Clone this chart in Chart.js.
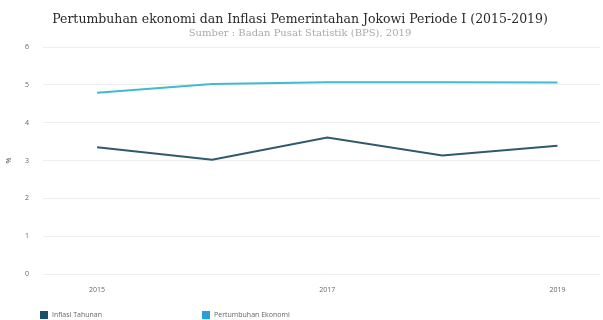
<!DOCTYPE html>
<html>
<head>
<meta charset="utf-8">
<script src="https://cdn.jsdelivr.net/npm/chart.js@4/dist/chart.umd.min.js"></script>
<style>
  html, body { margin: 0; padding: 0; background: #fff; }
  #wrap { position: relative; width: 603px; height: 320px; }
  #legend { position: absolute; left: 40px; top: 310px; font: 7px "Open Sans", sans-serif; color: #666; }
  #legend span.item { position: absolute; white-space: nowrap; }
  #legend i { display: inline-block; width: 8px; height: 8px; vertical-align: middle; margin-right: 4px; }
</style>
</head>
<body>
<div id="wrap">
  <canvas id="chart" width="603" height="320"></canvas>
  <div id="legend"></div>
</div>
<script>
// Indonesia's yearly figures, in percent
const years = [2015, 2016, 2017, 2018, 2019];
const inflasi = [3.35, 3.02, 3.61, 3.13, 3.39];
const pertumbuhan = [4.79, 5.02, 5.07, 5.07, 5.06];
const yearTicks = [2015, 2017, 2019];

const SERIES = [
  { label: 'Inflasi Tahunan', data: inflasi, line: '#2f5a6c', box: '#1d4e6b' },
  { label: 'Pertumbuhan Ekonomi', data: pertumbuhan, line: '#3fbccb', box: '#2a9fd8' },
];

const toPoints = vals => vals.map((v, i) => ({ x: years[i], y: v }));

// legend sits under the axis, left aligned with wide gaps
const legendEl = document.getElementById('legend');
SERIES.forEach((s, i) => {
  const el = document.createElement('span');
  el.className = 'item';
  el.style.left = (i * 162) + 'px';
  el.innerHTML = '<i style="background:' + s.box + '"></i>' + s.label;
  legendEl.appendChild(el);
});

new Chart(document.getElementById('chart'), {
  type: 'line',
  data: {
    datasets: SERIES.map(s => ({
      label: s.label,
      data: toPoints(s.data),
      borderColor: s.line,
      backgroundColor: s.line,
      borderWidth: 2,
      pointRadius: 0,
      tension: 0,
    })),
  },
  options: {
    responsive: false,
    animation: false,
    layout: { padding: { left: 0, right: 3, top: 0, bottom: 22 } },
    scales: {
      x: {
        type: 'linear',
        min: 2014.53,
        max: 2019.37,
        afterBuildTicks: axis => { axis.ticks = yearTicks.map(v => ({ value: v })); },
        afterFit: axis => { axis.height = 24; },
        grid: { display: false },
        border: { display: false },
        ticks: {
          padding: 4,
          color: '#666',
          font: { family: 'Open Sans', size: 7 },
          callback: v => String(v),
        },
      },
      y: {
        min: 0,
        max: 6,
        afterFit: axis => { axis.width = 43; },
        grid: { color: '#eeeeee', drawTicks: false },
        border: { display: false },
        ticks: {
          stepSize: 1,
          padding: 14,
          color: '#666',
          font: { family: 'Open Sans', size: 7 },
        },
        title: {
          display: true,
          text: '%',
          color: '#555',
          padding: { top: 5, bottom: 0 },
          font: { family: 'Open Sans', size: 7 },
        },
      },
    },
    plugins: {
      legend: { display: false },
      tooltip: { enabled: false },
      title: {
        display: true,
        text: 'Pertumbuhan ekonomi dan Inflasi Pemerintahan Jokowi Periode I (2015-2019)',
        color: '#2a2a2a',
        font: { family: 'DejaVu Serif', size: 12.5, weight: 'normal' },
        padding: { top: 12, bottom: 0 },
      },
      subtitle: {
        display: true,
        text: 'Sumber : Badan Pusat Statistik (BPS), 2019',
        color: '#aaa',
        font: { family: 'DejaVu Serif', size: 10 },
        padding: { top: 0, bottom: 8 },
      },
    },
  },
});
</script>
</body>
</html>
